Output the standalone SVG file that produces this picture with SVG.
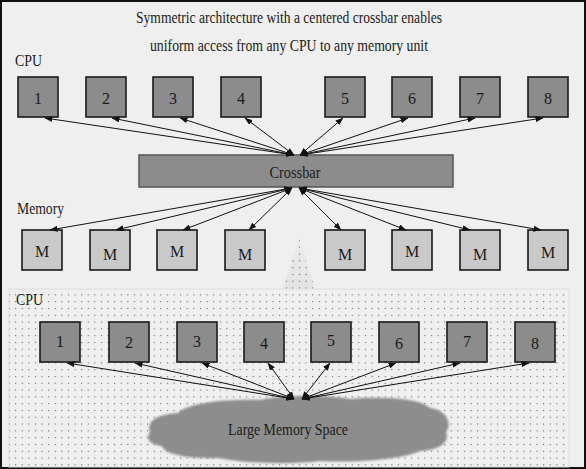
<svg xmlns="http://www.w3.org/2000/svg" width="586" height="469" viewBox="0 0 586 469">
<style>
text{font-family:"Liberation Serif","Times New Roman",serif;fill:#1a1a1a}
.t{font-size:16px}
.n{font-size:16px;text-anchor:middle}
.cpu rect{fill:#8c8c8c;stroke:#1a1a1a;stroke-width:1.6}
.mem rect{fill:#c9c9c9;stroke:#1a1a1a;stroke-width:1.6}
.conn line{stroke:#111;stroke-width:1;marker-start:url(#ah);marker-end:url(#ah)}
</style>
<defs>
<marker id="ah" markerUnits="userSpaceOnUse" markerWidth="8" markerHeight="6" refX="7.5" refY="3" orient="auto-start-reverse"><path d="M0,0 L8,3 L0,6 z" fill="#111"/></marker>
<pattern id="dots" width="6.6" height="6.8" patternUnits="userSpaceOnUse"><rect x="2" y="2" width="1" height="1" fill="#444"/></pattern>
<linearGradient id="cone" x1="0" y1="0" x2="0" y2="1"><stop offset="0" stop-color="#e2e2e2" stop-opacity="0.2"/><stop offset="1" stop-color="#e2e2e2" stop-opacity="0.9"/></linearGradient>
<filter id="soft" x="-5%" y="-10%" width="110%" height="120%"><feGaussianBlur stdDeviation="1.2"/></filter>
</defs>
<rect x="1" y="1" width="584" height="467" fill="#efefef" stroke="#111" stroke-width="2"/>
<g id="title">
<text class="t" x="289" y="23" text-anchor="middle" textLength="306" lengthAdjust="spacingAndGlyphs">Symmetric architecture with a centered crossbar enables</text>
<text class="t" x="289" y="51" text-anchor="middle" textLength="278" lengthAdjust="spacingAndGlyphs">uniform access from any CPU to any memory unit</text>
</g>
<text class="t" x="15" y="66" textLength="27" lengthAdjust="spacingAndGlyphs">CPU</text>
<text class="t" x="17" y="214" textLength="47" lengthAdjust="spacingAndGlyphs">Memory</text>
<g id="panel">
<polygon points="299,238 283,289 315,289" fill="url(#cone)"/>
<polygon points="299,238 283,289 315,289" fill="url(#dots)"/>
<rect x="9" y="289" width="560" height="178" fill="#efefef" stroke="#e0e0e0" stroke-width="1"/>
<rect x="9" y="289" width="560" height="178" fill="url(#dots)"/>
<text class="t" x="16" y="305" textLength="27" lengthAdjust="spacingAndGlyphs">CPU</text>
</g>
<g id="cloud">
<path filter="url(#soft)" fill="#8d8d8d" d="M150,432 C146,420 160,414 178,413 C190,402 230,399 260,400 C280,395 330,395 350,399 C380,396 420,398 430,408 C448,410 452,425 446,432 C450,442 440,450 420,451 C400,460 350,463 320,461 C290,465 240,463 220,458 C190,459 165,455 162,446 C148,444 146,438 150,432 Z"/>
<text class="n" x="288" y="435" textLength="120" lengthAdjust="spacingAndGlyphs">Large Memory Space</text>
</g>
<g id="crossbar">
<rect x="139" y="155" width="314" height="32" fill="#8c8c8c" stroke="#555" stroke-width="1.5"/>
<text class="n" x="295" y="178" textLength="51" lengthAdjust="spacingAndGlyphs">Crossbar</text>
</g>
<g id="cpu-top" class="cpu">
<g id="cpu1"><rect x="18" y="77" width="40" height="40"/><text class="n" x="38" y="104">1</text></g>
<g id="cpu2"><rect x="86" y="77" width="40" height="40"/><text class="n" x="106" y="104">2</text></g>
<g id="cpu3"><rect x="153" y="77" width="40" height="40"/><text class="n" x="173" y="104">3</text></g>
<g id="cpu4"><rect x="221" y="77" width="40" height="40"/><text class="n" x="241" y="104">4</text></g>
<g id="cpu5"><rect x="325" y="77" width="40" height="40"/><text class="n" x="345" y="104">5</text></g>
<g id="cpu6"><rect x="392" y="77" width="40" height="40"/><text class="n" x="412" y="104">6</text></g>
<g id="cpu7"><rect x="460" y="77" width="40" height="40"/><text class="n" x="480" y="104">7</text></g>
<g id="cpu8"><rect x="528" y="77" width="40" height="40"/><text class="n" x="548" y="104">8</text></g>
</g>
<g id="memory" class="mem">
<g id="mem1"><rect x="22" y="230" width="40" height="40"/><text class="n" x="42" y="257">M</text></g>
<g id="mem2"><rect x="90" y="230" width="40" height="40"/><text class="n" x="110" y="260">M</text></g>
<g id="mem3"><rect x="157" y="230" width="40" height="40"/><text class="n" x="177" y="257">M</text></g>
<g id="mem4"><rect x="225" y="230" width="40" height="40"/><text class="n" x="245" y="260">M</text></g>
<g id="mem5"><rect x="325" y="230" width="40" height="40"/><text class="n" x="345" y="260">M</text></g>
<g id="mem6"><rect x="392" y="230" width="40" height="40"/><text class="n" x="412" y="257">M</text></g>
<g id="mem7"><rect x="460" y="230" width="40" height="40"/><text class="n" x="480" y="260">M</text></g>
<g id="mem8"><rect x="528" y="230" width="40" height="40"/><text class="n" x="548" y="258">M</text></g>
</g>
<g id="cpu-panel" class="cpu">
<g id="pcpu1"><rect x="40" y="322" width="40" height="40"/><text class="n" x="60" y="347">1</text></g>
<g id="pcpu2"><rect x="109" y="322" width="40" height="40"/><text class="n" x="129" y="348">2</text></g>
<g id="pcpu3"><rect x="177" y="322" width="40" height="40"/><text class="n" x="197" y="347">3</text></g>
<g id="pcpu4"><rect x="244" y="322" width="40" height="40"/><text class="n" x="264" y="349">4</text></g>
<g id="pcpu5"><rect x="311" y="322" width="40" height="40"/><text class="n" x="331" y="346">5</text></g>
<g id="pcpu6"><rect x="379" y="322" width="40" height="40"/><text class="n" x="399" y="349">6</text></g>
<g id="pcpu7"><rect x="447" y="322" width="40" height="40"/><text class="n" x="467" y="347">7</text></g>
<g id="pcpu8"><rect x="515" y="322" width="40" height="40"/><text class="n" x="535" y="349">8</text></g>
</g>
<g id="connectors" class="conn">
<line x1="294" y1="155" x2="45" y2="118"/>
<line x1="294" y1="155" x2="112" y2="118"/>
<line x1="294" y1="155" x2="180" y2="118"/>
<line x1="294" y1="155" x2="245" y2="118"/>
<line x1="300" y1="155" x2="343" y2="118"/>
<line x1="300" y1="155" x2="408" y2="118"/>
<line x1="300" y1="155" x2="475" y2="118"/>
<line x1="300" y1="155" x2="543" y2="118"/>
<line x1="292" y1="188" x2="50" y2="230"/>
<line x1="292" y1="188" x2="116" y2="230"/>
<line x1="292" y1="188" x2="183" y2="230"/>
<line x1="292" y1="188" x2="249" y2="230"/>
<line x1="299" y1="188" x2="341" y2="230"/>
<line x1="299" y1="188" x2="406" y2="230"/>
<line x1="299" y1="188" x2="470" y2="230"/>
<line x1="299" y1="188" x2="541" y2="230"/>
<line x1="294" y1="399" x2="67" y2="363"/>
<line x1="294" y1="399" x2="135" y2="363"/>
<line x1="294" y1="399" x2="202" y2="363"/>
<line x1="294" y1="399" x2="268" y2="363"/>
<line x1="302" y1="399" x2="330" y2="363"/>
<line x1="302" y1="399" x2="396" y2="363"/>
<line x1="302" y1="399" x2="460" y2="363"/>
<line x1="302" y1="399" x2="529" y2="363"/>
</g>
</svg>
